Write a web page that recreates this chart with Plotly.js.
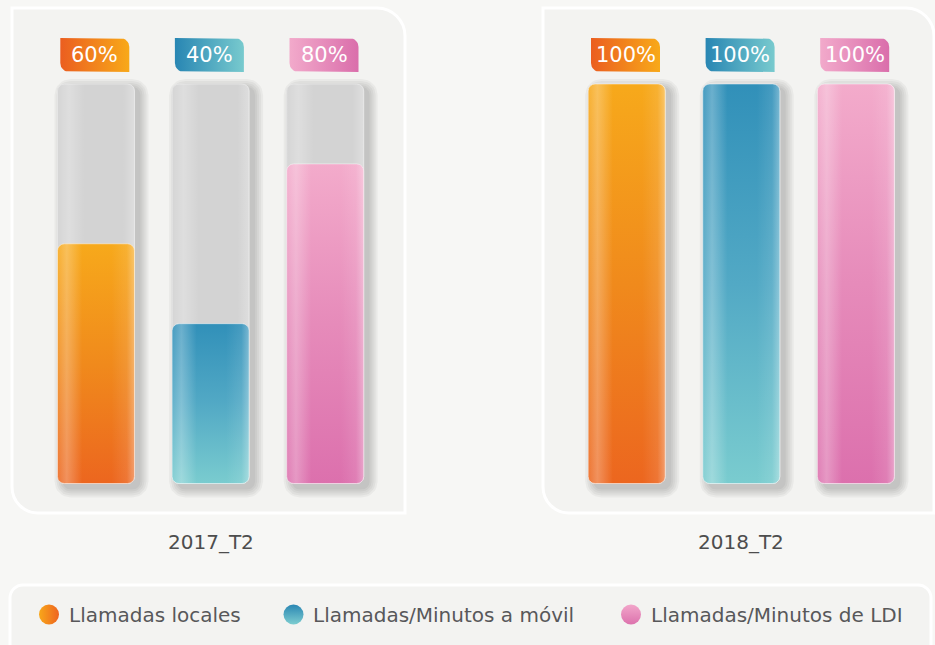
<!DOCTYPE html>
<html>
<head>
<meta charset="utf-8">
<script src="https://cdn.plot.ly/plotly-3.0.1.min.js"></script>
<style>
  html, body { margin: 0; padding: 0; background: #F7F7F5; }
  #chart { width: 935px; height: 645px; }
</style>
</head>
<body>
<div id="chart"></div>
<script>
// ---------------- DATA ----------------
const periods = ['2017_T2', '2018_T2'];
const categories = ['Llamadas locales', 'Llamadas/Minutos a móvil', 'Llamadas/Minutos de LDI'];
const values2017 = [60, 40, 80];
const values2018 = [100, 100, 100];
const valueLabels2017 = ['60%', '40%', '80%'];
const valueLabels2018 = ['100%', '100%', '100%'];
const maxValue = 100;

// ---------------- STYLE ----------------
const W = 935, H = 645;
const FONT = 'DejaVu Sans';
const BAR_W_PX = 77;
const SPACING_PX = 114.6;
const Y0_PX = 483.5, YTOP_PX = 84;
const PPU_Y = (Y0_PX - YTOP_PX) / maxValue;
const yRange = [-(H - Y0_PX) / PPU_Y, Y0_PX / PPU_Y];
const panelFirstCenterPx = [96, 626.7];

const barGrad = [
  [[0, '#EC661F'], [0.5, '#F08A1C'], [1, '#F7A91B']],
  [[0, '#7ACCCF'], [0.5, '#52A9C5'], [1, '#3190B9']],
  [[0, '#DC70AD'], [0.5, '#E68BBA'], [1, '#F3ABCB']]
];
const tagGrad = [
  [[0, '#EB5E20'], [1, '#F8A919']],
  [[0, '#2886B3'], [1, '#78CACE']],
  [[0, '#F2AACB'], [1, '#DA6EAB']]
];
const legendSwatch = [
  {color: '#F8A71A', grad: {type: 'horizontal', color: '#EE6420'}},
  {color: '#2A86B3', grad: {type: 'vertical', color: '#7DCDD0'}},
  {color: '#F2A6CA', grad: {type: 'vertical', color: '#DC72AD'}}
];
const shineScale = [
  [0, 'rgba(255,255,255,0.10)'], [0.12, 'rgba(255,255,255,0.28)'], [0.32, 'rgba(255,255,255,0)'],
  [0.7, 'rgba(255,255,255,0)'], [0.9, 'rgba(255,255,255,0.10)'], [1, 'rgba(255,255,255,0.35)']
];
const trackShine = [
  [0, 'rgba(255,255,255,0.05)'], [0.15, 'rgba(255,255,255,0.25)'], [0.35, 'rgba(255,255,255,0)'],
  [0.85, 'rgba(255,255,255,0)'], [1, 'rgba(255,255,255,0.25)']
];

// ---------------- HELPERS ----------------
const pxX = px => px / SPACING_PX;
const pxY = px => px / PPU_Y;
function rrect(x0, x1, y0, y1, r) {
  const xs = [], ys = [];
  function arc(cx, cy, rpx, a0, a1) {
    if (!rpx) { xs.push(cx); ys.push(cy); return; }
    const n = 8;
    for (let i = 0; i <= n; i++) {
      const a = a0 + (a1 - a0) * i / n;
      xs.push(cx + pxX(rpx) * Math.cos(a));
      ys.push(cy + pxY(rpx) * Math.sin(a));
    }
  }
  arc(x0 + pxX(r.tl), y1 - pxY(r.tl), r.tl, Math.PI, Math.PI / 2);
  arc(x1 - pxX(r.tr), y1 - pxY(r.tr), r.tr, Math.PI / 2, 0);
  arc(x1 - pxX(r.br), y0 + pxY(r.br), r.br, 0, -Math.PI / 2);
  arc(x0 + pxX(r.bl), y0 + pxY(r.bl), r.bl, -Math.PI / 2, -Math.PI);
  xs.push(xs[0]); ys.push(ys[0]);
  return {x: xs, y: ys};
}
const R = v => ({tl: v, tr: v, br: v, bl: v});
function poly(xa, shape, extra) {
  return Object.assign({
    type: 'scatter', mode: 'lines', xaxis: xa, yaxis: 'y',
    x: shape.x, y: shape.y, fill: 'toself', line: {width: 0},
    hoverinfo: 'skip', showlegend: false
  }, extra);
}
const toPaperX = px => px / W;
const toPaperY = py => 1 - py / H;
function panelPath(x0, y0, x1, y1, r) {
  const k = 0.4477;
  const X = toPaperX, Y = toPaperY;
  let d = `M${X(x0 + r.tl)},${Y(y0)} L${X(x1 - r.tr)},${Y(y0)} `;
  d += `C${X(x1 - r.tr * k)},${Y(y0)} ${X(x1)},${Y(y0 + r.tr * k)} ${X(x1)},${Y(y0 + r.tr)} `;
  d += `L${X(x1)},${Y(y1 - r.br)} `;
  d += `C${X(x1)},${Y(y1 - r.br * k)} ${X(x1 - r.br * k)},${Y(y1)} ${X(x1 - r.br)},${Y(y1)} `;
  d += `L${X(x0 + r.bl)},${Y(y1)} `;
  d += `C${X(x0 + r.bl * k)},${Y(y1)} ${X(x0)},${Y(y1 - r.bl * k)} ${X(x0)},${Y(y1 - r.bl)} `;
  d += `L${X(x0)},${Y(y0 + r.tl)} `;
  d += `C${X(x0)},${Y(y0 + r.tl * k)} ${X(x0 + r.tl * k)},${Y(y0)} ${X(x0 + r.tl)},${Y(y0)} Z`;
  return d;
}

// ---------------- TRACES ----------------
const traces = [];
const annotations = [];
const panels = [
  {axis: 'x', values: values2017, labels: valueLabels2017, period: periods[0]},
  {axis: 'x2', values: values2018, labels: valueLabels2018, period: periods[1]}
];
const halfW = pxX(BAR_W_PX) / 2;

panels.forEach(p => {
  p.values.forEach((v, i) => {
    const x0 = i - halfW, x1 = i + halfW;
    // soft drop shadow
    [0, 2, 4, 6, 8].forEach(e => {
      const s = rrect(x0 + pxX(5 - e), x1 + pxX(6 + e), 0 - pxY(6 + e), maxValue - pxY(3 - e), R(8 + e));
      traces.push(poly(p.axis, s, {fillcolor: 'rgba(0,0,0,0.04)'}));
    });
    // grey track
    const track = rrect(x0, x1, 0, maxValue, R(7));
    traces.push(poly(p.axis, track, {fillcolor: '#D3D3D3', line: {width: 1, color: '#E4E4E4'}}));
    traces.push(poly(p.axis, track, {fillgradient: {type: 'horizontal', colorscale: trackShine}}));
    // coloured value bar
    const bar = rrect(x0, x1, 0, v, R(7));
    traces.push(poly(p.axis, bar, {
      name: categories[i],
      fillgradient: {type: 'vertical', colorscale: barGrad[i]},
      line: {width: 1, color: 'rgba(255,255,255,0.45)'}
    }));
    traces.push(poly(p.axis, bar, {fillgradient: {type: 'horizontal', colorscale: shineScale}}));
    // value tag
    const tcx = i - pxX(1.2);
    const tag = rrect(tcx - pxX(34.5), tcx + pxX(34.5), maxValue + pxY(12), maxValue + pxY(46), {tl: 0, tr: 9, br: 0, bl: 9});
    traces.push(poly(p.axis, tag, {fillgradient: {type: 'horizontal', colorscale: tagGrad[i]}}));
    annotations.push({
      xref: p.axis, yref: 'y', x: tcx, y: maxValue + pxY(29), text: p.labels[i],
      showarrow: false, font: {family: FONT, size: 21, color: '#FFFFFF'}, xanchor: 'center', yanchor: 'middle'
    });
  });
  annotations.push({
    xref: p.axis, yref: 'paper', x: 1, y: toPaperY(541.5), text: p.period,
    showarrow: false, font: {family: FONT, size: 20, color: '#4D4D4D'}, xanchor: 'center', yanchor: 'middle'
  });
});

// legend row (custom)
const legendCirclePx = [49, 293.5, 631];
const legendRowPy = 614.5;
categories.forEach((c, i) => {
  traces.push({
    type: 'scatter', mode: 'markers', xaxis: 'x3', yaxis: 'y2',
    x: [legendCirclePx[i]], y: [legendRowPy], hoverinfo: 'skip', showlegend: false,
    marker: {size: 20, symbol: 'circle', color: legendSwatch[i].color, gradient: legendSwatch[i].grad, line: {width: 0}}
  });
  annotations.push({
    xref: 'paper', yref: 'paper', x: toPaperX(legendCirclePx[i] + 17.5), y: toPaperY(legendRowPy),
    text: c, showarrow: false, xanchor: 'left', yanchor: 'middle',
    font: {family: FONT, size: 20, color: '#58585A'}
  });
});

// ---------------- LAYOUT ----------------
function domainFor(c0) {
  const left = c0 - SPACING_PX / 2;
  return [left / W, (left + 3 * SPACING_PX) / W];
}
const hidden = {visible: false, fixedrange: true, showgrid: false, zeroline: false};
const layout = {
  width: W, height: H,
  margin: {l: 0, r: 0, t: 0, b: 0, pad: 0},
  paper_bgcolor: '#F7F7F5', plot_bgcolor: 'rgba(0,0,0,0)',
  showlegend: false,
  xaxis: Object.assign({domain: domainFor(panelFirstCenterPx[0]), range: [-0.5, 2.5], anchor: 'y'}, hidden),
  xaxis2: Object.assign({domain: domainFor(panelFirstCenterPx[1]), range: [-0.5, 2.5], anchor: 'y'}, hidden),
  yaxis: Object.assign({domain: [0, 1], range: yRange, anchor: 'x'}, hidden),
  xaxis3: Object.assign({domain: [0, 1], range: [0, W], anchor: 'y2'}, hidden),
  yaxis2: Object.assign({domain: [0, 1], range: [H, 0], anchor: 'x3'}, hidden),
  shapes: [
    {type: 'path', xref: 'paper', yref: 'paper', layer: 'below', path: panelPath(12, 8, 405, 513, {tl: 0, tr: 28, br: 0, bl: 26}),
      fillcolor: '#F3F3F1', line: {color: '#FFFFFF', width: 3}},
    {type: 'path', xref: 'paper', yref: 'paper', layer: 'below', path: panelPath(543, 8, 934, 513, {tl: 0, tr: 28, br: 0, bl: 26}),
      fillcolor: '#F3F3F1', line: {color: '#FFFFFF', width: 3}},
    {type: 'path', xref: 'paper', yref: 'paper', layer: 'below', path: panelPath(10, 585, 931, 662, R(13)),
      fillcolor: '#F3F3F1', line: {color: '#FFFFFF', width: 3}}
  ],
  annotations: annotations
};

Plotly.newPlot('chart', traces, layout, {displayModeBar: false, staticPlot: true});
</script>
</body>
</html>
